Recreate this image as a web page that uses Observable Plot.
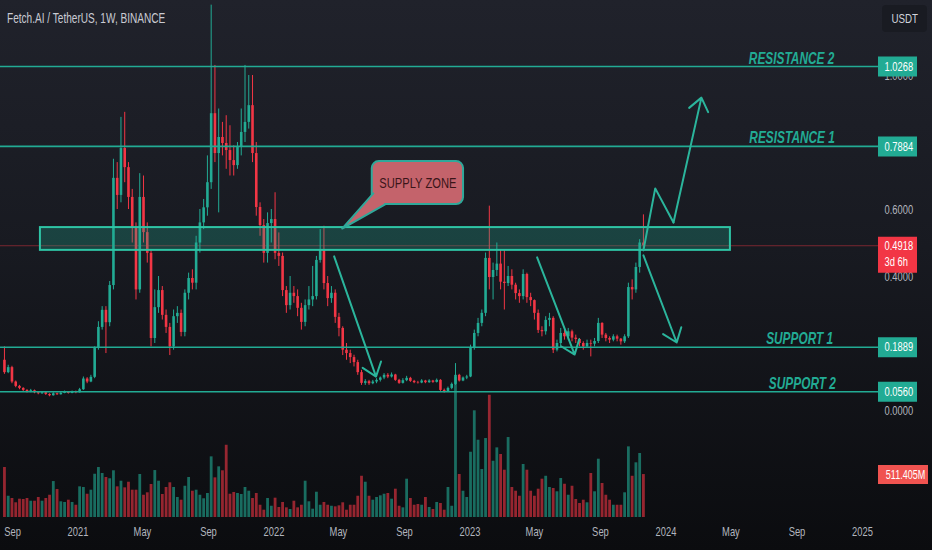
<!DOCTYPE html>
<html><head><meta charset="utf-8">
<script src="https://cdn.jsdelivr.net/npm/d3@7"></script>
<script src="https://cdn.jsdelivr.net/npm/@observablehq/plot@0.6"></script>
<style>
body{margin:0;background:#0c0d10;}
#chart{position:relative;width:932px;height:550px;overflow:hidden;
  background:linear-gradient(180deg,#20222b 0%,#181a21 45%,#0b0c0f 100%);
  font-family:"Liberation Sans",Arial,sans-serif;}
#chart svg{position:absolute;left:0;top:0;}
#title{position:absolute;left:7px;top:10px;color:#c9cbd3;font-size:14px;z-index:3;
  transform:scaleX(0.72);transform-origin:left center;white-space:nowrap;}
#unit{position:absolute;left:882px;top:5px;width:45px;height:27px;border-radius:4px;background:#191b22;
  color:#d1d4dc;font-size:13px;display:flex;align-items:center;justify-content:center;z-index:3;}
#unit span{display:inline-block;transform:scaleX(0.75);}
</style></head>
<body>
<div id="chart"><div id="title">Fetch.AI / TetherUS, 1W, BINANCE</div><div id="unit"><span>USDT</span></div></div>
<script>
// ---------- data ----------
const firstWeek = "2020-08-17";
const firstOpen = 0.150;
const closes = [
0.113,0.128,0.085,0.072,0.066,0.060,0.056,0.059,0.053,0.050,
0.053,0.048,0.044,0.050,0.047,0.051,0.054,0.051,0.055,0.053,
0.062,0.094,0.085,0.099,0.185,0.248,0.299,0.262,0.373,0.693,
0.642,0.782,0.725,0.636,0.546,0.360,0.636,0.531,0.469,0.215,
0.307,0.358,0.284,0.248,0.190,0.280,0.290,0.233,0.350,0.394,
0.380,0.500,0.560,0.605,0.680,0.886,0.767,0.815,0.797,0.776,
0.746,0.731,0.785,0.830,0.860,0.910,0.767,0.606,0.552,0.469,
0.558,0.570,0.469,0.460,0.358,0.313,0.350,0.340,0.305,0.263,
0.313,0.330,0.340,0.448,0.478,0.379,0.334,0.350,0.278,0.245,
0.180,0.170,0.158,0.143,0.113,0.081,0.086,0.080,0.085,0.090,
0.097,0.105,0.100,0.106,0.090,0.081,0.089,0.096,0.087,0.083,
0.082,0.088,0.083,0.088,0.084,0.090,0.060,0.056,0.066,0.078,
0.105,0.088,0.097,0.100,0.188,0.230,0.260,0.290,0.454,0.397,
0.418,0.437,0.383,0.379,0.400,0.374,0.349,0.340,0.406,0.337,
0.328,0.290,0.239,0.235,0.269,0.275,0.180,0.200,0.230,0.220,
0.235,0.216,0.212,0.200,0.190,0.200,0.198,0.206,0.260,0.225,
0.215,0.210,0.220,0.213,0.205,0.220,0.367,0.360,0.427,0.500,
0.4918];
const highs = [
0.190,0.135,0.132,0.088,0.075,0.068,0.062,0.063,0.061,0.056,
0.056,0.055,0.050,0.053,0.052,0.054,0.058,0.056,0.058,0.058,
0.066,0.100,0.098,0.105,0.190,0.265,0.310,0.310,0.385,0.750,
0.740,0.875,0.890,0.740,0.660,0.560,0.707,0.700,0.560,0.480,
0.360,0.400,0.370,0.300,0.260,0.300,0.310,0.300,0.360,0.410,
0.420,0.520,0.600,0.630,0.760,1.210,1.030,0.900,0.860,0.880,
0.850,0.790,0.800,0.900,1.030,1.000,1.000,0.800,0.620,0.570,
0.590,0.600,0.650,0.530,0.470,0.370,0.400,0.370,0.360,0.320,
0.330,0.370,0.430,0.460,0.540,0.550,0.400,0.370,0.360,0.290,
0.250,0.200,0.180,0.165,0.150,0.120,0.092,0.090,0.090,0.095,
0.100,0.110,0.110,0.112,0.108,0.093,0.095,0.102,0.099,0.090,
0.087,0.092,0.090,0.092,0.090,0.094,0.092,0.064,0.070,0.082,
0.140,0.108,0.100,0.105,0.195,0.240,0.275,0.300,0.470,0.610,
0.440,0.500,0.480,0.480,0.430,0.420,0.380,0.360,0.420,0.410,
0.350,0.330,0.300,0.250,0.280,0.290,0.280,0.210,0.245,0.240,
0.245,0.240,0.225,0.215,0.205,0.210,0.210,0.215,0.275,0.262,
0.230,0.220,0.226,0.225,0.215,0.226,0.380,0.390,0.440,0.510,
0.584];
const lows = [
0.108,0.110,0.080,0.068,0.062,0.056,0.052,0.053,0.050,0.047,
0.048,0.045,0.041,0.043,0.045,0.046,0.050,0.049,0.050,0.050,
0.052,0.060,0.080,0.083,0.095,0.180,0.240,0.170,0.250,0.360,
0.600,0.620,0.680,0.600,0.500,0.330,0.350,0.500,0.440,0.190,
0.200,0.290,0.270,0.230,0.164,0.180,0.260,0.220,0.220,0.330,
0.360,0.360,0.470,0.540,0.580,0.660,0.740,0.590,0.760,0.720,
0.700,0.700,0.720,0.760,0.800,0.840,0.740,0.580,0.520,0.440,
0.440,0.500,0.450,0.430,0.340,0.290,0.300,0.320,0.280,0.240,
0.250,0.300,0.310,0.330,0.440,0.360,0.310,0.320,0.260,0.220,
0.164,0.150,0.140,0.130,0.105,0.075,0.075,0.075,0.077,0.080,
0.085,0.092,0.095,0.097,0.087,0.078,0.079,0.086,0.084,0.080,
0.079,0.080,0.080,0.081,0.081,0.082,0.057,0.052,0.054,0.062,
0.075,0.085,0.086,0.092,0.098,0.180,0.220,0.250,0.280,0.360,
0.330,0.400,0.360,0.300,0.370,0.360,0.330,0.320,0.330,0.320,
0.310,0.270,0.230,0.220,0.225,0.250,0.170,0.175,0.190,0.210,
0.210,0.205,0.200,0.190,0.180,0.185,0.160,0.190,0.200,0.215,
0.205,0.200,0.205,0.205,0.195,0.200,0.215,0.330,0.350,0.410,
0.480];
// weekly volume, millions of FET
const volumes = [
595,253,226,175,218,214,226,194,194,238,
194,226,265,428,333,187,179,206,179,146,
365,357,277,325,515,595,524,476,461,556,
365,432,353,420,325,325,512,265,294,393,
559,432,274,357,413,357,238,206,372,476,
313,325,265,223,286,722,472,603,556,860,
277,298,286,274,357,313,226,286,146,87,
226,134,230,119,179,115,95,194,115,146,
432,187,99,301,146,179,146,134,127,139,
175,87,146,146,253,491,420,253,206,238,
258,277,286,218,337,134,115,456,226,146,
155,146,238,119,95,179,167,87,357,134,
1666,512,313,238,777,1270,920,571,940,1455,
670,829,750,563,952,357,313,253,631,563,
313,253,337,456,491,357,345,306,464,396,
265,372,214,167,206,175,524,306,694,405,
265,206,146,146,146,294,841,491,651,762,
511.405];

const lastPrice = 0.4918;
const countdown = "3d 6h";
const lastVolume = 511.405;
const lastVolumeLabel = "511.405M";

const levelValues = [1.0268, 0.7884, 0.1889, 0.0560];
const levelNames  = ["RESISTANCE 2", "RESISTANCE 1", "SUPPORT 1", "SUPPORT 2"];
const levelLabelDates = ["2024-08-22", "2024-08-23", "2024-09-06", "2024-09-11"];

const priceTicks = [0, 0.4, 0.6, 1.0];
const timeTicks = ["2020-09-01","2021-01-01","2021-05-01","2021-09-01","2022-01-01","2022-05-01",
  "2022-09-01","2023-01-01","2023-05-01","2023-09-01","2024-01-01","2024-05-01","2024-09-01","2025-01-01"];
const timeDomain = ["2020-09-01", "2025-01-01"];

// supply zone rectangle
const zoneDates = ["2020-10-23", "2024-04-30"];
const zonePrices = [0.478, 0.546];
// callout
const calloutText = "SUPPLY ZONE";
const calloutDates = ["2022-07-03", "2022-12-20"];
const calloutPrices = [0.615, 0.743];
const tailDates = ["2022-07-05", "2022-05-08", "2022-07-27"];
const tailPrices = [0.648, 0.543, 0.615];
// arrows (start -> end)
const arrowStartDates = ["2022-04-23", "2023-05-06", "2024-01-15", "2023-11-20"];
const arrowStartPrices = [0.460, 0.457, 0.561, 0.463];
const arrowEndDates = ["2022-07-10", "2023-07-15", "2024-03-07", "2024-01-21"];
const arrowEndPrices = [0.101, 0.167, 0.934, 0.203];
// zig-zag leading into the upward arrow
const zigDates = ["2023-11-20", "2023-12-12", "2024-01-15"];
const zigPrices = [0.478, 0.663, 0.561];

// ---------- build ----------
const D = s => new Date(s + "T00:00:00Z");
const GREEN = "#22ab94", RED = "#f23645", TEAL = "#22ab94", ARROW = "#2bb59c";
const FONT = '"Liberation Sans",Arial,sans-serif';
const t0 = D(firstWeek);
const candles = closes.map((c, i) => {
  const o = i ? closes[i - 1] : firstOpen;
  return {date: new Date(+t0 + i * 7 * 864e5), open: o, close: c,
    high: Math.max(highs[i], o, c), low: Math.min(lows[i], o, c),
    volume: volumes[i], color: c >= o ? GREEN : RED};
});
const levels = levelValues.map((v, i) => ({value: v, name: levelNames[i], labelDate: D(levelLabelDates[i])}));
const zone = {x1: D(zoneDates[0]), x2: D(zoneDates[1]), y1: zonePrices[0], y2: zonePrices[1]};
const callout = {x1: D(calloutDates[0]), x2: D(calloutDates[1]), y1: calloutPrices[0], y2: calloutPrices[1]};
const tail = tailDates.map((d, i) => ({x: D(d), y: tailPrices[i]}));
const arrows = arrowStartDates.map((d, i) => ({x1: D(d), y1: arrowStartPrices[i], x2: D(arrowEndDates[i]), y2: arrowEndPrices[i]}));
const zig = zigDates.map((d, i) => ({x: D(d), y: zigPrices[i]}));

const xOpts = {type: "utc", domain: timeDomain.map(D), range: [12, 862], axis: null};
const style = {background: "transparent", overflow: "visible", fontFamily: FONT};
const fmtTime = d => d.getUTCMonth() === 0 ? d3.utcFormat("%Y")(d) : d3.utcFormat("%b")(d);

const volPlot = Plot.plot({
  width: 932, height: 550, margin: 0, style,
  x: xOpts,
  y: {domain: [0, 1000], range: [517, 433], axis: null},
  marks: [
    Plot.ruleX(candles, {x: "date", y1: 0, y2: "volume", stroke: "color", strokeOpacity: 0.6, strokeWidth: 2.8}),
    Plot.text(timeTicks.map(D), {x: d => d, text: fmtTime, frameAnchor: "bottom", dy: -15, fill: "#b2b5be", fontSize: 13}),
    Plot.ruleY([lastVolume], {stroke: "#f05350", strokeWidth: 19, insetLeft: 878, insetRight: 4}),
    Plot.text([lastVolume], {y: d => d, text: () => lastVolumeLabel, frameAnchor: "right", dx: -27, textAnchor: "middle", fill: "white", fontSize: 12.5})
  ]
});

const pricePlot = Plot.plot({
  width: 932, height: 550, margin: 0, style,
  x: xOpts,
  y: {domain: [0, 1], range: [410, 75], axis: null},
  marks: [
    Plot.ruleY([lastPrice], {stroke: RED, strokeOpacity: 0.45, strokeWidth: 1, insetRight: 54}),
    Plot.ruleX(candles, {x: "date", y1: "low", y2: "high", stroke: "color", strokeWidth: 1}),
    Plot.ruleX(candles, {x: "date", y1: "open", y2: "close", stroke: "color", strokeWidth: 2.6}),
    Plot.rect([zone], {x1: "x1", x2: "x2", y1: "y1", y2: "y2", fill: TEAL, fillOpacity: 0.28, stroke: "#2ec4a5", strokeWidth: 2}),
    Plot.ruleY(levels, {y: "value", stroke: TEAL, strokeWidth: 1.6, insetRight: 54}),
    Plot.text(levels, {x: "labelDate", y: "value", text: "name", dy: -3, lineAnchor: "bottom", fill: TEAL,
      fontSize: 16.5, fontWeight: "bold", fontStyle: "italic"}),
    Plot.rect([callout], {x1: "x1", x2: "x2", y1: "y1", y2: "y2", fill: "#c4636b", stroke: "#2fa89a", strokeWidth: 2, rx: 7}),
    Plot.line(tail, {x: "x", y: "y", fill: "#c4636b", stroke: "#2fa89a", strokeWidth: 2}),
    Plot.text([callout], {x: d => new Date((+d.x1 + +d.x2) / 2), y: d => (d.y1 + d.y2) / 2, text: () => calloutText,
      fill: "#3a1519", fontSize: 15.5}),
    Plot.line(zig, {x: "x", y: "y", stroke: ARROW, strokeWidth: 2}),
    Plot.arrow(arrows, {x1: "x1", y1: "y1", x2: "x2", y2: "y2", stroke: ARROW, strokeWidth: 2, headLength: 12, headAngle: 75}),
    Plot.text(priceTicks, {y: d => d, text: d => d.toFixed(4), frameAnchor: "right", dx: -48, textAnchor: "start",
      fill: "#b2b5be", fontSize: 13}),
    Plot.ruleY(levels, {y: "value", stroke: TEAL, strokeWidth: 20, insetLeft: 878, insetRight: 15}),
    Plot.text(levels, {y: "value", text: d => d.value.toFixed(4), frameAnchor: "right", dx: -48, textAnchor: "start",
      fill: "white", fontSize: 13}),
    Plot.ruleY([lastPrice], {stroke: RED, strokeWidth: 36, dy: 9, insetLeft: 878, insetRight: 15}),
    Plot.text([lastPrice], {y: d => d, text: d => d.toFixed(4), frameAnchor: "right", dx: -48, textAnchor: "start",
      fill: "white", fontSize: 13}),
    Plot.text([lastPrice], {y: d => d, text: () => countdown, frameAnchor: "right", dx: -48, dy: 16, textAnchor: "start",
      fill: "white", fontSize: 13})
  ]
});

const chart = document.getElementById("chart");
chart.appendChild(volPlot);
chart.appendChild(pricePlot);

// the reference typography is condensed: squeeze every label horizontally
function condense(svg, factor) {
  svg.querySelectorAll("text").forEach(t => {
    const w = t.getComputedTextLength();
    if (w > 0) {
      t.setAttribute("textLength", (w * factor).toFixed(1));
      t.setAttribute("lengthAdjust", "spacingAndGlyphs");
    }
  });
}
condense(volPlot, 0.72);
condense(pricePlot, 0.72);
</script>
</body></html>
